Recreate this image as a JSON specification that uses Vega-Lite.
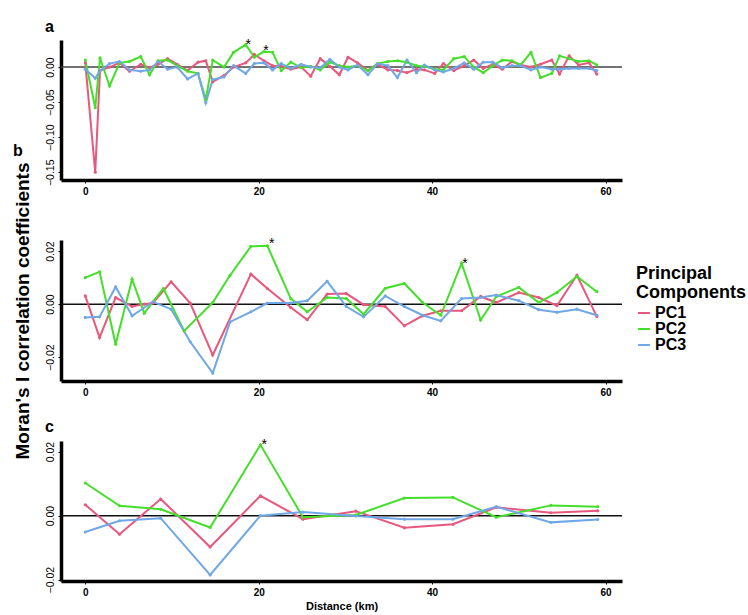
{
  "$schema": "https://vega.github.io/schema/vega-lite/v6.json",
  "padding": {"left": 12, "top": 18, "right": 2, "bottom": 5},
  "config": {
    "font": "Liberation Sans",
    "view": {"stroke": null},
    "axis": {"grid": false, "domainColor": "black", "domainWidth": 3.5, "tickColor": "black", "tickSize": 3, "tickWidth": 1, "labelColor": "black", "labelFont": "Liberation Sans", "titleColor": "black"},
    "axisX": {"labelFontWeight": "bold", "labelFontSize": 10, "labelPadding": 3, "titleFontSize": 11, "titleFontWeight": "bold", "titlePadding": 3},
    "axisY": {"labelAngle": -90, "labelFontSize": 10.5, "labelPadding": 3, "titleFontSize": 19, "titleFontWeight": "bold", "titlePadding": 13},
    "title": {"anchor": "start", "fontSize": 16, "fontWeight": "bold", "offset": 3, "color": "black"}
  },
  "datasets": {
    "a": [
      {"x":0,"y":0.006,"pc":"PC1"},{"x":1.15,"y":-0.150,"pc":"PC1"},{"x":1.7,"y":-0.005,"pc":"PC1"},{"x":2.8,"y":0.0,"pc":"PC1"},{"x":3.95,"y":0.006,"pc":"PC1"},{"x":5.1,"y":-0.006,"pc":"PC1"},{"x":6.4,"y":0.004,"pc":"PC1"},{"x":7.4,"y":-0.001,"pc":"PC1"},{"x":8.4,"y":0.004,"pc":"PC1"},{"x":9.5,"y":0.012,"pc":"PC1"},{"x":10.6,"y":0.004,"pc":"PC1"},{"x":11.8,"y":-0.005,"pc":"PC1"},{"x":13.0,"y":0.007,"pc":"PC1"},{"x":13.9,"y":0.009,"pc":"PC1"},{"x":14.7,"y":-0.021,"pc":"PC1"},{"x":16.0,"y":-0.012,"pc":"PC1"},{"x":17.1,"y":0.0,"pc":"PC1"},{"x":18.5,"y":0.006,"pc":"PC1"},{"x":19.5,"y":0.018,"pc":"PC1"},{"x":20.6,"y":0.009,"pc":"PC1"},{"x":21.6,"y":0.002,"pc":"PC1"},{"x":22.6,"y":0.001,"pc":"PC1"},{"x":23.7,"y":-0.003,"pc":"PC1"},{"x":24.9,"y":0.0,"pc":"PC1"},{"x":26.0,"y":-0.013,"pc":"PC1"},{"x":27.1,"y":0.012,"pc":"PC1"},{"x":28.2,"y":0.001,"pc":"PC1"},{"x":29.3,"y":-0.011,"pc":"PC1"},{"x":30.3,"y":0.014,"pc":"PC1"},{"x":31.4,"y":0.006,"pc":"PC1"},{"x":32.6,"y":-0.005,"pc":"PC1"},{"x":33.7,"y":0.004,"pc":"PC1"},{"x":34.9,"y":-0.004,"pc":"PC1"},{"x":36.0,"y":-0.005,"pc":"PC1"},{"x":37.1,"y":-0.008,"pc":"PC1"},{"x":38.2,"y":-0.003,"pc":"PC1"},{"x":39.1,"y":-0.004,"pc":"PC1"},{"x":40.3,"y":-0.009,"pc":"PC1"},{"x":41.3,"y":0.005,"pc":"PC1"},{"x":42.5,"y":-0.005,"pc":"PC1"},{"x":43.7,"y":0.002,"pc":"PC1"},{"x":44.8,"y":0.010,"pc":"PC1"},{"x":45.9,"y":-0.002,"pc":"PC1"},{"x":47.0,"y":0.004,"pc":"PC1"},{"x":48.1,"y":-0.003,"pc":"PC1"},{"x":49.2,"y":0.008,"pc":"PC1"},{"x":50.2,"y":0.003,"pc":"PC1"},{"x":51.4,"y":0.0,"pc":"PC1"},{"x":52.5,"y":0.004,"pc":"PC1"},{"x":53.8,"y":0.010,"pc":"PC1"},{"x":54.7,"y":-0.010,"pc":"PC1"},{"x":55.8,"y":0.016,"pc":"PC1"},{"x":56.9,"y":0.003,"pc":"PC1"},{"x":58.1,"y":0.006,"pc":"PC1"},{"x":59.0,"y":-0.010,"pc":"PC1"},
      {"x":0,"y":0.010,"pc":"PC2"},{"x":1.15,"y":-0.058,"pc":"PC2"},{"x":1.7,"y":0.013,"pc":"PC2"},{"x":2.8,"y":-0.027,"pc":"PC2"},{"x":3.95,"y":0.006,"pc":"PC2"},{"x":5.1,"y":0.008,"pc":"PC2"},{"x":6.4,"y":0.015,"pc":"PC2"},{"x":7.4,"y":-0.011,"pc":"PC2"},{"x":8.4,"y":0.009,"pc":"PC2"},{"x":9.5,"y":0.010,"pc":"PC2"},{"x":10.6,"y":0.002,"pc":"PC2"},{"x":11.8,"y":-0.006,"pc":"PC2"},{"x":13.0,"y":-0.009,"pc":"PC2"},{"x":13.9,"y":-0.046,"pc":"PC2"},{"x":14.7,"y":0.010,"pc":"PC2"},{"x":16.0,"y":0.0,"pc":"PC2"},{"x":17.1,"y":0.021,"pc":"PC2"},{"x":18.5,"y":0.032,"pc":"PC2"},{"x":19.5,"y":0.014,"pc":"PC2"},{"x":20.6,"y":0.022,"pc":"PC2"},{"x":21.6,"y":0.021,"pc":"PC2"},{"x":22.6,"y":-0.005,"pc":"PC2"},{"x":23.7,"y":0.007,"pc":"PC2"},{"x":24.9,"y":-0.001,"pc":"PC2"},{"x":26.0,"y":0.001,"pc":"PC2"},{"x":27.1,"y":-0.004,"pc":"PC2"},{"x":28.2,"y":0.007,"pc":"PC2"},{"x":29.3,"y":0.002,"pc":"PC2"},{"x":30.3,"y":0.0,"pc":"PC2"},{"x":31.4,"y":0.002,"pc":"PC2"},{"x":32.6,"y":-0.005,"pc":"PC2"},{"x":33.7,"y":0.005,"pc":"PC2"},{"x":34.9,"y":0.008,"pc":"PC2"},{"x":36.0,"y":0.009,"pc":"PC2"},{"x":37.1,"y":0.007,"pc":"PC2"},{"x":38.2,"y":0.002,"pc":"PC2"},{"x":39.1,"y":0.001,"pc":"PC2"},{"x":40.3,"y":-0.003,"pc":"PC2"},{"x":41.3,"y":-0.004,"pc":"PC2"},{"x":42.5,"y":0.012,"pc":"PC2"},{"x":43.7,"y":0.015,"pc":"PC2"},{"x":44.8,"y":0.0,"pc":"PC2"},{"x":45.9,"y":-0.008,"pc":"PC2"},{"x":47.0,"y":0.002,"pc":"PC2"},{"x":48.1,"y":0.010,"pc":"PC2"},{"x":49.2,"y":0.009,"pc":"PC2"},{"x":50.2,"y":0.003,"pc":"PC2"},{"x":51.4,"y":0.021,"pc":"PC2"},{"x":52.5,"y":-0.015,"pc":"PC2"},{"x":53.8,"y":-0.009,"pc":"PC2"},{"x":54.7,"y":0.016,"pc":"PC2"},{"x":55.8,"y":0.012,"pc":"PC2"},{"x":56.9,"y":0.008,"pc":"PC2"},{"x":58.1,"y":0.009,"pc":"PC2"},{"x":59.0,"y":0.003,"pc":"PC2"},
      {"x":0,"y":-0.003,"pc":"PC3"},{"x":1.15,"y":-0.016,"pc":"PC3"},{"x":1.7,"y":-0.005,"pc":"PC3"},{"x":2.8,"y":0.005,"pc":"PC3"},{"x":3.95,"y":0.008,"pc":"PC3"},{"x":5.1,"y":-0.004,"pc":"PC3"},{"x":6.4,"y":-0.006,"pc":"PC3"},{"x":7.4,"y":-0.004,"pc":"PC3"},{"x":8.4,"y":0.008,"pc":"PC3"},{"x":9.5,"y":-0.003,"pc":"PC3"},{"x":10.6,"y":0.0,"pc":"PC3"},{"x":11.8,"y":-0.017,"pc":"PC3"},{"x":13.0,"y":-0.009,"pc":"PC3"},{"x":13.9,"y":-0.051,"pc":"PC3"},{"x":14.7,"y":-0.018,"pc":"PC3"},{"x":16.0,"y":-0.014,"pc":"PC3"},{"x":17.1,"y":0.002,"pc":"PC3"},{"x":18.5,"y":-0.009,"pc":"PC3"},{"x":19.5,"y":0.005,"pc":"PC3"},{"x":20.6,"y":0.006,"pc":"PC3"},{"x":21.6,"y":-0.004,"pc":"PC3"},{"x":22.6,"y":0.005,"pc":"PC3"},{"x":23.7,"y":-0.002,"pc":"PC3"},{"x":24.9,"y":0.004,"pc":"PC3"},{"x":26.0,"y":0.0,"pc":"PC3"},{"x":27.1,"y":-0.001,"pc":"PC3"},{"x":28.2,"y":0.011,"pc":"PC3"},{"x":29.3,"y":0.0,"pc":"PC3"},{"x":30.3,"y":-0.004,"pc":"PC3"},{"x":31.4,"y":0.003,"pc":"PC3"},{"x":32.6,"y":-0.011,"pc":"PC3"},{"x":33.7,"y":0.005,"pc":"PC3"},{"x":34.9,"y":0.002,"pc":"PC3"},{"x":36.0,"y":-0.015,"pc":"PC3"},{"x":37.1,"y":0.010,"pc":"PC3"},{"x":38.2,"y":-0.008,"pc":"PC3"},{"x":39.1,"y":0.003,"pc":"PC3"},{"x":40.3,"y":-0.004,"pc":"PC3"},{"x":41.3,"y":-0.007,"pc":"PC3"},{"x":42.5,"y":-0.002,"pc":"PC3"},{"x":43.7,"y":0.006,"pc":"PC3"},{"x":44.8,"y":-0.003,"pc":"PC3"},{"x":45.9,"y":0.007,"pc":"PC3"},{"x":47.0,"y":0.007,"pc":"PC3"},{"x":48.1,"y":-0.001,"pc":"PC3"},{"x":49.2,"y":0.002,"pc":"PC3"},{"x":50.2,"y":0.002,"pc":"PC3"},{"x":51.4,"y":-0.004,"pc":"PC3"},{"x":52.5,"y":0.0,"pc":"PC3"},{"x":53.8,"y":-0.003,"pc":"PC3"},{"x":54.7,"y":-0.003,"pc":"PC3"},{"x":55.8,"y":-0.002,"pc":"PC3"},{"x":56.9,"y":-0.002,"pc":"PC3"},{"x":58.1,"y":-0.002,"pc":"PC3"},{"x":59.0,"y":-0.005,"pc":"PC3"}
    ],
    "b": [
      {"x":0,"y":0.0031,"pc":"PC1"},{"x":1.65,"y":-0.0126,"pc":"PC1"},{"x":3.5,"y":0.0025,"pc":"PC1"},{"x":5.4,"y":-0.0009,"pc":"PC1"},{"x":6.8,"y":0.0,"pc":"PC1"},{"x":7.8,"y":0.0004,"pc":"PC1"},{"x":9.9,"y":0.0084,"pc":"PC1"},{"x":12.1,"y":0.0004,"pc":"PC1"},{"x":14.7,"y":-0.0192,"pc":"PC1"},{"x":19.1,"y":0.0113,"pc":"PC1"},{"x":21.0,"y":0.0059,"pc":"PC1"},{"x":23.7,"y":-0.0013,"pc":"PC1"},{"x":25.6,"y":-0.0059,"pc":"PC1"},{"x":27.9,"y":0.0038,"pc":"PC1"},{"x":30.1,"y":0.004,"pc":"PC1"},{"x":32.1,"y":-0.0002,"pc":"PC1"},{"x":34.6,"y":-0.0009,"pc":"PC1"},{"x":36.8,"y":-0.0082,"pc":"PC1"},{"x":38.9,"y":-0.0044,"pc":"PC1"},{"x":41.0,"y":-0.0025,"pc":"PC1"},{"x":43.4,"y":-0.0025,"pc":"PC1"},{"x":45.6,"y":0.0029,"pc":"PC1"},{"x":47.4,"y":0.0006,"pc":"PC1"},{"x":50.0,"y":0.0044,"pc":"PC1"},{"x":52.3,"y":0.0025,"pc":"PC1"},{"x":54.4,"y":-0.0006,"pc":"PC1"},{"x":56.7,"y":0.0109,"pc":"PC1"},{"x":59.0,"y":-0.0047,"pc":"PC1"},
      {"x":0,"y":0.010,"pc":"PC2"},{"x":1.65,"y":0.0122,"pc":"PC2"},{"x":3.5,"y":-0.0151,"pc":"PC2"},{"x":5.4,"y":0.0094,"pc":"PC2"},{"x":6.8,"y":-0.0034,"pc":"PC2"},{"x":9.0,"y":0.0059,"pc":"PC2"},{"x":11.4,"y":-0.0101,"pc":"PC2"},{"x":14.7,"y":0.0006,"pc":"PC2"},{"x":16.7,"y":0.0109,"pc":"PC2"},{"x":19.1,"y":0.0218,"pc":"PC2"},{"x":21.0,"y":0.022,"pc":"PC2"},{"x":23.7,"y":0.0021,"pc":"PC2"},{"x":25.6,"y":-0.0029,"pc":"PC2"},{"x":27.9,"y":0.0025,"pc":"PC2"},{"x":30.1,"y":0.0021,"pc":"PC2"},{"x":32.1,"y":-0.0038,"pc":"PC2"},{"x":34.6,"y":0.006,"pc":"PC2"},{"x":36.8,"y":0.0078,"pc":"PC2"},{"x":38.9,"y":0.0006,"pc":"PC2"},{"x":41.0,"y":-0.0042,"pc":"PC2"},{"x":43.4,"y":0.0155,"pc":"PC2"},{"x":45.6,"y":-0.006,"pc":"PC2"},{"x":47.4,"y":0.0029,"pc":"PC2"},{"x":50.0,"y":0.0063,"pc":"PC2"},{"x":52.3,"y":0.0006,"pc":"PC2"},{"x":54.4,"y":0.0044,"pc":"PC2"},{"x":56.7,"y":0.0104,"pc":"PC2"},{"x":59.0,"y":0.0047,"pc":"PC2"},
      {"x":0,"y":-0.005,"pc":"PC3"},{"x":1.65,"y":-0.0048,"pc":"PC3"},{"x":3.5,"y":0.0065,"pc":"PC3"},{"x":5.4,"y":-0.0044,"pc":"PC3"},{"x":7.8,"y":0.0009,"pc":"PC3"},{"x":9.9,"y":-0.0019,"pc":"PC3"},{"x":12.1,"y":-0.0142,"pc":"PC3"},{"x":14.7,"y":-0.026,"pc":"PC3"},{"x":16.7,"y":-0.0067,"pc":"PC3"},{"x":19.1,"y":-0.0029,"pc":"PC3"},{"x":21.0,"y":0.0004,"pc":"PC3"},{"x":23.7,"y":0.0004,"pc":"PC3"},{"x":25.6,"y":0.0013,"pc":"PC3"},{"x":27.9,"y":0.0086,"pc":"PC3"},{"x":30.1,"y":-0.0009,"pc":"PC3"},{"x":32.1,"y":-0.0048,"pc":"PC3"},{"x":34.6,"y":0.0031,"pc":"PC3"},{"x":36.8,"y":-0.0009,"pc":"PC3"},{"x":38.9,"y":-0.0042,"pc":"PC3"},{"x":41.0,"y":-0.0063,"pc":"PC3"},{"x":43.4,"y":0.0021,"pc":"PC3"},{"x":45.6,"y":0.0025,"pc":"PC3"},{"x":47.4,"y":0.0034,"pc":"PC3"},{"x":50.0,"y":0.0013,"pc":"PC3"},{"x":52.3,"y":-0.0021,"pc":"PC3"},{"x":54.4,"y":-0.0031,"pc":"PC3"},{"x":56.7,"y":-0.0019,"pc":"PC3"},{"x":59.0,"y":-0.0042,"pc":"PC3"}
    ],
    "c": [
      {"x":0,"y":0.0034,"pc":"PC1"},{"x":3.95,"y":-0.0058,"pc":"PC1"},{"x":8.7,"y":0.0052,"pc":"PC1"},{"x":14.4,"y":-0.0098,"pc":"PC1"},{"x":20.2,"y":0.0062,"pc":"PC1"},{"x":25.1,"y":-0.0011,"pc":"PC1"},{"x":31.2,"y":0.0014,"pc":"PC1"},{"x":36.8,"y":-0.0038,"pc":"PC1"},{"x":42.4,"y":-0.0027,"pc":"PC1"},{"x":47.4,"y":0.0026,"pc":"PC1"},{"x":53.7,"y":0.0009,"pc":"PC1"},{"x":59.1,"y":0.0015,"pc":"PC1"},
      {"x":0,"y":0.0102,"pc":"PC2"},{"x":3.95,"y":0.0031,"pc":"PC2"},{"x":8.7,"y":0.002,"pc":"PC2"},{"x":14.4,"y":-0.0037,"pc":"PC2"},{"x":20.2,"y":0.0221,"pc":"PC2"},{"x":25.1,"y":-0.0005,"pc":"PC2"},{"x":31.2,"y":0.0002,"pc":"PC2"},{"x":36.8,"y":0.0055,"pc":"PC2"},{"x":42.4,"y":0.0057,"pc":"PC2"},{"x":47.4,"y":-0.0005,"pc":"PC2"},{"x":53.7,"y":0.0032,"pc":"PC2"},{"x":59.1,"y":0.0028,"pc":"PC2"},
      {"x":0,"y":-0.0051,"pc":"PC3"},{"x":3.95,"y":-0.0016,"pc":"PC3"},{"x":8.7,"y":-0.0008,"pc":"PC3"},{"x":14.4,"y":-0.0185,"pc":"PC3"},{"x":20.2,"y":0.0,"pc":"PC3"},{"x":25.1,"y":0.0011,"pc":"PC3"},{"x":31.2,"y":-0.0001,"pc":"PC3"},{"x":36.8,"y":-0.0011,"pc":"PC3"},{"x":42.4,"y":-0.0011,"pc":"PC3"},{"x":47.4,"y":0.0028,"pc":"PC3"},{"x":53.7,"y":-0.0021,"pc":"PC3"},{"x":59.1,"y":-0.0012,"pc":"PC3"}
    ],
    "starsA": [{"x":18.8,"y":0.035,"t":"*"},{"x":20.85,"y":0.026,"t":"*"}],
    "starsB": [{"x":21.5,"y":0.0233,"t":"*"},{"x":43.8,"y":0.016,"t":"*"}],
    "starsC": [{"x":20.65,"y":0.0226,"t":"*"}],
    "zero": [{"y":0}]
  },
  "vconcat": [
    {
      "width": 561, "height": 140,
      "title": {"text": "a"},
      "layer": [
        {"data": {"name": "zero"}, "mark": {"type": "rule", "color": "#444444", "strokeWidth": 1.5},
         "encoding": {"y": {"field": "y", "type": "quantitative", "scale": {"domain": [-0.161, 0.0386], "nice": false, "zero": false}, "axis": {"values": [-0.15, -0.1, -0.05, 0], "format": ".2f", "title": null}}}},
        {"data": {"name": "a"}, "mark": {"type": "line", "strokeWidth": 2, "point": {"size": 10, "filled": true}},
         "encoding": {
           "x": {"field": "x", "type": "quantitative", "scale": {"domain": [-2.8, 61.9], "nice": false, "zero": false}, "axis": {"values": [0, 20, 40, 60], "title": null}},
           "y": {"field": "y", "type": "quantitative", "scale": {"domain": [-0.161, 0.0386], "nice": false, "zero": false}},
           "color": {"field": "pc", "type": "nominal", "scale": {"domain": ["PC1", "PC2", "PC3"], "range": ["#E8577C", "#44DF2A", "#70A7E7"]},
             "legend": {"orient": "none", "legendX": 575, "legendY": 225, "title": ["Principal", "Components"], "titleFontSize": 18, "titleFontWeight": "bold", "titleColor": "black", "titleLineHeight": 19, "titlePadding": 3, "labelFontSize": 16, "labelFontWeight": "bold", "labelColor": "black", "symbolType": "stroke", "symbolStrokeWidth": 2, "symbolSize": 140, "rowPadding": -1.5, "labelOffset": 3}}
         }},
        {"data": {"name": "starsA"}, "mark": {"type": "text", "fontSize": 14, "color": "black", "baseline": "middle", "dy": 2},
         "encoding": {"x": {"field": "x", "type": "quantitative"}, "y": {"field": "y", "type": "quantitative"}, "text": {"field": "t"}}}
      ]
    },
    {
      "width": 561, "height": 141,
      "title": {"text": "b"},
      "layer": [
        {"data": {"name": "zero"}, "mark": {"type": "rule", "color": "#111111", "strokeWidth": 1.5},
         "encoding": {"y": {"field": "y", "type": "quantitative", "scale": {"domain": [-0.029, 0.0242], "nice": false, "zero": false}, "axis": {"values": [-0.02, -0.01, 0, 0.01, 0.02], "format": ".2f", "title": "Moran's I correlation coefficients"}}}},
        {"data": {"name": "b"}, "mark": {"type": "line", "strokeWidth": 2, "point": {"size": 10, "filled": true}},
         "encoding": {
           "x": {"field": "x", "type": "quantitative", "scale": {"domain": [-2.8, 61.9], "nice": false, "zero": false}, "axis": {"values": [0, 20, 40, 60], "title": null}},
           "y": {"field": "y", "type": "quantitative", "scale": {"domain": [-0.029, 0.0242], "nice": false, "zero": false}},
           "color": {"field": "pc", "type": "nominal", "legend": null}
         }},
        {"data": {"name": "starsB"}, "mark": {"type": "text", "fontSize": 14, "color": "black", "baseline": "middle", "dy": 2},
         "encoding": {"x": {"field": "x", "type": "quantitative"}, "y": {"field": "y", "type": "quantitative"}, "text": {"field": "t"}}}
      ]
    },
    {
      "width": 561, "height": 140,
      "title": {"text": "c"},
      "layer": [
        {"data": {"name": "zero"}, "mark": {"type": "rule", "color": "#111111", "strokeWidth": 1.5},
         "encoding": {"y": {"field": "y", "type": "quantitative", "scale": {"domain": [-0.0204, 0.0233], "nice": false, "zero": false}, "axis": {"values": [-0.02, -0.01, 0, 0.01, 0.02], "format": ".2f", "title": null}}}},
        {"data": {"name": "c"}, "mark": {"type": "line", "strokeWidth": 2, "point": {"size": 10, "filled": true}},
         "encoding": {
           "x": {"field": "x", "type": "quantitative", "scale": {"domain": [-2.8, 61.9], "nice": false, "zero": false}, "axis": {"values": [0, 20, 40, 60], "title": "Distance (km)"}},
           "y": {"field": "y", "type": "quantitative", "scale": {"domain": [-0.0204, 0.0233], "nice": false, "zero": false}},
           "color": {"field": "pc", "type": "nominal", "legend": null}
         }},
        {"data": {"name": "starsC"}, "mark": {"type": "text", "fontSize": 14, "color": "black", "baseline": "middle", "dy": 2},
         "encoding": {"x": {"field": "x", "type": "quantitative"}, "y": {"field": "y", "type": "quantitative"}, "text": {"field": "t"}}}
      ]
    }
  ],
  "spacing": 60,
  "bounds": "flush"
}
